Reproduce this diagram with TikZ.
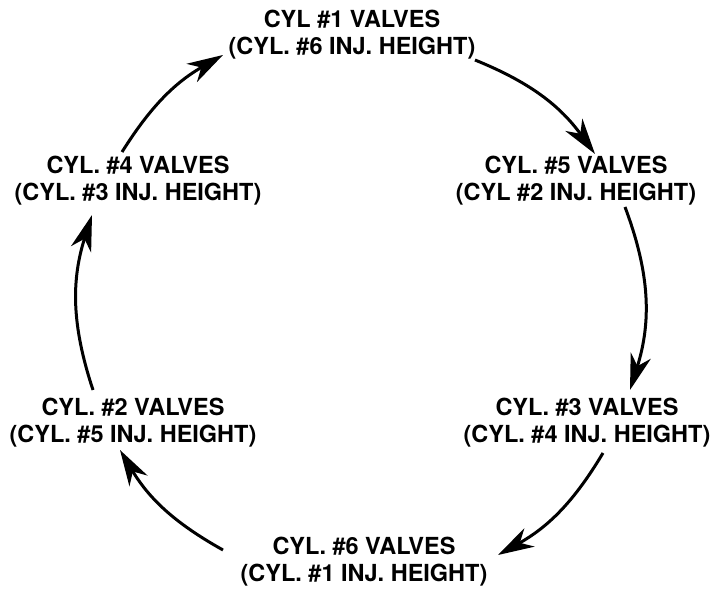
\documentclass[tikz,border=0pt]{standalone}
\usepackage{fontspec}
\setmainfont{TeX Gyre Heros}
\usepackage{tikz}
\usetikzlibrary{arrows.meta}

\begin{document}
\begin{tikzpicture}[
  x=1pt,y=1pt,
  cyl/.style={inner sep=0pt,align=center,
    font=\fontsize{23.5}{27}\selectfont\bfseries},
  a/.style={-{Stealth[length=36pt,width=21pt,inset=11pt]},line width=3pt}
]
  \useasboundingbox (0,0) rectangle (716,598);
  \node[cyl] (c1) at (352,563) {CYL \#1 VALVES\\(CYL. \#6 INJ. HEIGHT)};
  \node[cyl] (c5) at (576,417) {CYL. \#5 VALVES\\(CYL \#2 INJ. HEIGHT)};
  \node[cyl] (c3) at (587,175) {CYL. \#3 VALVES\\(CYL. \#4 INJ. HEIGHT)};
  \node[cyl] (c6) at (364,36)  {CYL. \#6 VALVES\\(CYL. \#1 INJ. HEIGHT)};
  \node[cyl] (c2) at (133,175) {CYL. \#2 VALVES\\(CYL. \#5 INJ. HEIGHT)};
  \node[cyl] (c4) at (138,417) {CYL. \#4 VALVES\\(CYL. \#3 INJ. HEIGHT)};
  \foreach \s/\p/\t/\q/\b in {c1/{123,-25}/c5/{19,27}/16,
      c5/{49,-26}/c3/{43,33}/19, c3/{16,-30}/c6/{134,7}/15,
      c6/{-141,12}/c2/{-13,-27}/15, c2/{-40,33}/c4/{-46,-34}/18,
      c4/{-16,29}/c1/{-129,-20}/14}
    {\draw[a] ([shift={(\p)}]\s.center) to[bend left=\b] ([shift={(\q)}]\t.center);}
\end{tikzpicture}
\end{document}
